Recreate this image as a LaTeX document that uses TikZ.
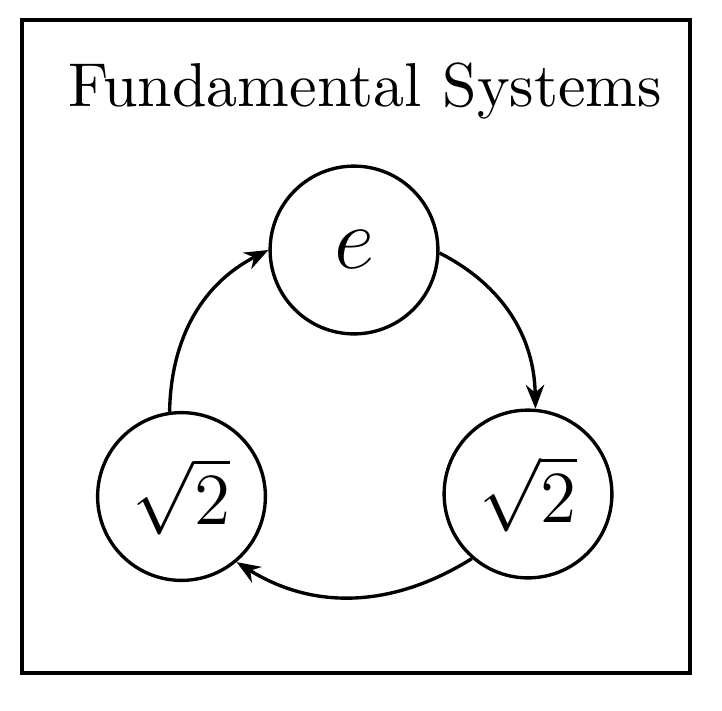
\documentclass[tikz,border=0pt]{standalone}
\usetikzlibrary{arrows.meta}
\begin{document}
\begin{tikzpicture}[x=0.1633pt,y=-0.1633pt,
  sys/.style={draw,circle,line width=0.55pt,minimum size=27.4pt,inner sep=0pt},
  flow/.style={line width=0.55pt,-{Stealth[length=3.9pt,width=3pt]}},
  frame/.style={draw,line width=0.5pt}]
\useasboundingbox (0,0) rectangle (722,710);
\draw[frame] (22,20) rectangle (690,673);
\node[anchor=base,font=\fontsize{10.12}{12}\selectfont] (title) at (365,106) {Fundamental Systems};
\node[sys,font=\Large] (t) at (354,250) {$e$};
\node[sys,font=\large] (r) at (528,494) {$\sqrt{2}$};
\node[sys,font=\large] (l) at (181.5,496.5) {$\sqrt{2}$};
\draw[flow] (t.-2) to[out=-27,in=91] (r.85);
\draw[flow] (r.229) to[out=212,in=328] (l.-50);
\draw[flow] (l.98) to[out=89,in=207] (t.180);
\end{tikzpicture}
\end{document}
